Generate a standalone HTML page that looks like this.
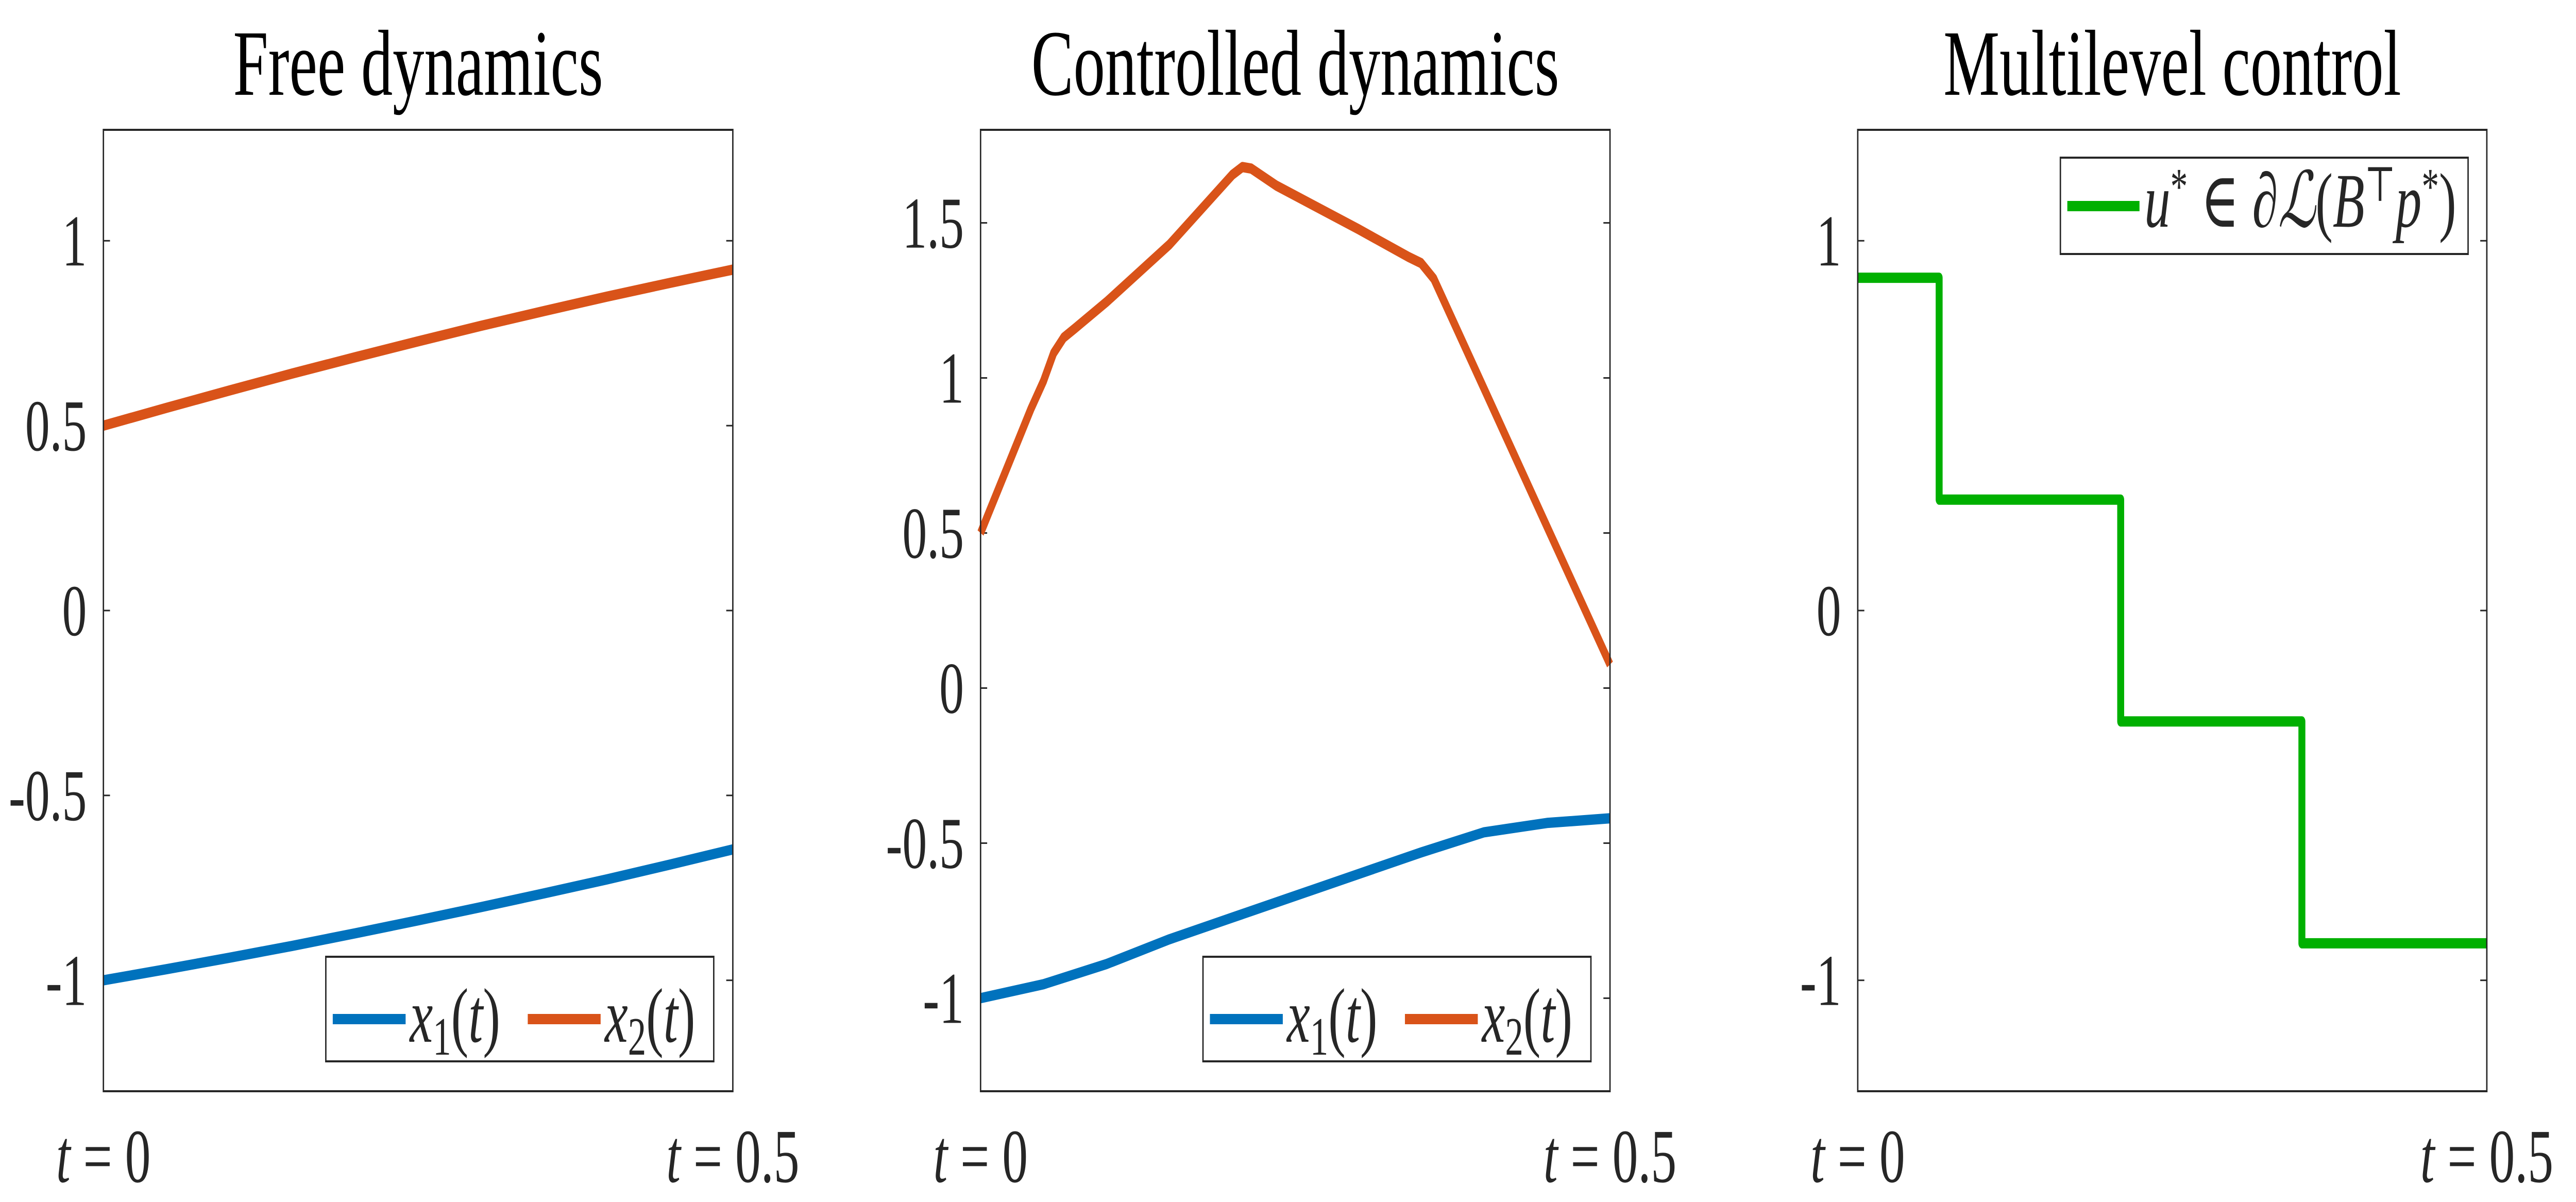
<!DOCTYPE html>
<html><head><meta charset="utf-8">
<style>
html,body{margin:0;padding:0;background:#fff;overflow:hidden;width:100%;height:100%;}
svg{display:block;position:fixed;left:0;top:0;width:100vw;height:100vh;}
text{font-family:"Liberation Serif","DejaVu Serif",serif;fill:#262626;}
.title{fill:#000;}
</style></head>
<body>
<svg id="fig" viewBox="0 0 7424 2333" preserveAspectRatio="none" xmlns="http://www.w3.org/2000/svg"></svg>
<script>
// ---- data ----
const freeT = [0,0.05,0.1,0.15,0.2,0.25,0.3,0.35,0.4,0.45,0.5];
const freeX1 = [-1,-0.970,-0.939,-0.907,-0.873,-0.838,-0.802,-0.765,-0.727,-0.687,-0.646];
const freeX2 = [0.5,0.548,0.595,0.641,0.685,0.728,0.770,0.810,0.849,0.886,0.922];
const ctrlT1 = [0,0.05,0.1,0.15,0.2,0.25,0.3,0.35,0.4,0.45,0.5];
const ctrlX1 = [-1,-0.955,-0.89,-0.81,-0.74,-0.67,-0.60,-0.53,-0.465,-0.435,-0.42];
const ctrlT2 = [0,0.02,0.04,0.05,0.058,0.066,0.075,0.10,0.15,0.20,0.208,0.215,0.235,0.30,0.34,0.35,0.36,0.40,0.45,0.5];
const ctrlX2 = [0.5,0.70,0.90,0.99,1.08,1.13,1.16,1.245,1.43,1.655,1.68,1.675,1.62,1.48,1.39,1.37,1.32,0.965,0.52,0.076];
const stepEdges = [0,0.0647,0.209,0.353,0.5];
const stepValues = [0.9,0.3,-0.3,-0.9];
const ticks1 = [-1,-0.5,0,0.5,1];
const ticks2 = [-1,-0.5,0,0.5,1,1.5];
const ticks3 = [-1,0,1];

const NS="http://www.w3.org/2000/svg";
const svg=document.getElementById('fig');
function mk(tag,attrs,parent){const e=document.createElementNS(NS,tag);for(const k in attrs)e.setAttribute(k,attrs[k]);(parent||svg).appendChild(e);return e;}

const TOP=252, BOT=2118;
const panels=[
 {name:'free-dynamics',x0:298,x1:2112,ymin:-1.3,ymax:1.3,ticks:ticks1,title:'Free dynamics'},
 {name:'controlled-dynamics',x0:2826,x1:4640,ymin:-1.3,ymax:1.8,ticks:ticks2,title:'Controlled dynamics'},
 {name:'multilevel-control',x0:5354,x1:7167,ymin:-1.3,ymax:1.3,ticks:ticks3,title:'Multilevel control'}
];
function fmt(v){return String(v);}

panels.forEach((p,i)=>{
  const g=mk('g',{});
  
  
  p.sx=t=>p.x0+(t/0.5)*(p.x1-p.x0);
  p.sy=v=>BOT-(v-p.ymin)/(p.ymax-p.ymin)*(BOT-TOP);
  const t=mk('text',{x:(p.x0+p.x1)/2,y:184,'font-size':182,'text-anchor':'middle',class:'title'},g);
  t.textContent=p.title;
  
  
  p.ticks.forEach(v=>{
    const y=p.sy(v);
    const tl=mk('line',{x1:p.x0,y1:y,x2:p.x0+19,y2:y,stroke:'#262626','stroke-width':3},g);
    
    
    const tr=mk('line',{x1:p.x1-19,y1:y,x2:p.x1,y2:y,stroke:'#262626','stroke-width':3},g);
    
    
    const lb=mk('text',{x:p.x0-48,y:y+48,'font-size':142,'text-anchor':'end'},g);
    lb.textContent=fmt(v);
    
    
  });
  [[0,'0',p.x0],[0.5,'0.5',p.x1]].forEach(([tv,s,x])=>{
    const lb=mk('text',{x:x,y:2294,'font-size':148,'text-anchor':'middle'},g);
    const a=mk('tspan',{'font-style':'italic'},lb);a.textContent='t';
    const b=mk('tspan',{},lb);b.textContent=' = '+s;
    
    
  });
  p.g=g;
});

function line(p,ts,vs,color,name){
  const d=ts.map((t,k)=>(k?'L':'M')+p.sx(t).toFixed(1)+','+p.sy(vs[k]).toFixed(1)).join(' ');
  const e=mk('path',{d:d,fill:'none',stroke:color,'stroke-width':20,'stroke-linejoin':'round'},p.g);
  
  
}
line(panels[0],freeT,freeX1,'#0072BD','series-x1-free');
line(panels[0],freeT,freeX2,'#D95319','series-x2-free');
line(panels[1],ctrlT1,ctrlX1,'#0072BD','series-x1-controlled');
line(panels[1],ctrlT2,ctrlX2,'#D95319','series-x2-controlled');
{
  const p=panels[2];const ts=[],vs=[];
  stepValues.forEach((v,k)=>{ts.push(stepEdges[k]);vs.push(v);ts.push(stepEdges[k+1]);vs.push(v);});
  line(p,ts,vs,'#00B000','series-u-star');
}

panels.forEach(p=>{
  const r=mk('rect',{x:p.x0,y:TOP,width:p.x1-p.x0,height:BOT-TOP,fill:'none',stroke:'#262626','stroke-width':4},p.g);
  
  
});

function legendX(p,off){
  const lg=mk('g',{},p.g);
  
  
  const bx=p.x0+off;
  mk('rect',{x:bx,y:1857,width:1118,height:203,fill:'#fff',stroke:'#262626','stroke-width':4},lg);
  [['#0072BD','1',bx+20],['#D95319','2',bx+582]].forEach(([c,s,x])=>{
    const e=mk('g',{},lg);
    
    
    mk('line',{x1:x,y1:1978,x2:x+210,y2:1978,stroke:c,'stroke-width':20},e);
    const tx=mk('text',{x:x+222,y:2022,'font-size':150,fill:'#000'},e);
    const a=mk('tspan',{'font-style':'italic'},tx);a.textContent='x';
    const b=mk('tspan',{'font-size':105,dy:25},tx);b.textContent=s;
    const c2=mk('tspan',{dy:-25},tx);c2.textContent='(';
    const d=mk('tspan',{'font-style':'italic'},tx);d.textContent='t';
    const f=mk('tspan',{},tx);f.textContent=')';
  });
}
legendX(panels[0],641);
legendX(panels[1],641);
{
  const p=panels[2];
  const lg=mk('g',{},p.g);
  
  
  mk('rect',{x:5938,y:306,width:1175,height:187,fill:'#fff',stroke:'#262626','stroke-width':4},lg);
  mk('line',{x1:5958,y1:400,x2:6166,y2:400,stroke:'#00B000','stroke-width':20},lg);
  const tx=mk('text',{x:6180,y:440,'font-size':150,fill:'#000'},lg);
  
  
  const parts=[['u','italic',0,150],['*','',-45,100],[' ∈ ∂','',45,150],['ℒ','italic',0,150],['(','',0,150],['B','italic',0,150],['⊤','',-50,95],['p','italic',50,150],['*','',-45,100],[')','',45,150]];
  parts.forEach(([s,st,dy,fs])=>{const t=mk('tspan',{'font-size':fs,dy:dy},tx);if(st)t.setAttribute('font-style',st);t.textContent=s;});
}
</script>
</body></html>
